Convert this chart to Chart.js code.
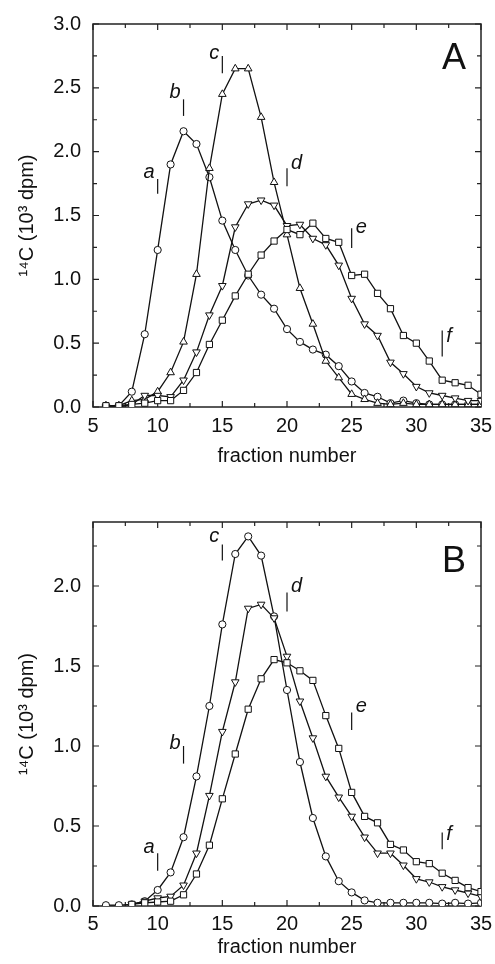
<!DOCTYPE html>
<html>
<head>
<meta charset="utf-8">
<script src="https://cdn.jsdelivr.net/npm/chart.js@4.4.1/dist/chart.umd.min.js"></script>
<style>
  body { margin: 0; background: #fff; }
  .panel { position: absolute; left: 0; width: 495px; height: 482px; }
  #wrapA { top: 0; }
  #wrapB { top: 482px; }
</style>
</head>
<body>
<div id="wrapA" class="panel"><canvas id="chartA"></canvas></div>
<div id="wrapB" class="panel"><canvas id="chartB"></canvas></div>
<script>
// Data
const fractions = [6, 7, 8, 9, 10, 11, 12, 13, 14, 15, 16, 17, 18, 19, 20,
                   21, 22, 23, 24, 25, 26, 27, 28, 29, 30, 31, 32, 33, 34, 35];

// Panel A
const circA  = [0.01, 0.01, 0.12, 0.57, 1.23, 1.90, 2.16, 2.06, 1.80, 1.46, 1.23, 1.03, 0.88, 0.77, 0.61,
                0.51, 0.45, 0.41, 0.32, 0.20, 0.11, 0.08, 0.03, 0.05, 0.03, 0.02, 0.02, 0.02, 0.02, 0.02];
const triUpA = [0.01, 0.01, 0.05, 0.06, 0.12, 0.27, 0.51, 1.04, 1.87, 2.45, 2.65, 2.65, 2.27, 1.76, 1.35,
                0.93, 0.65, 0.36, 0.23, 0.10, 0.06, 0.03, 0.02, 0.03, 0.02, 0.02, 0.02, 0.02, 0.02, 0.02];
const triDnA = [0.00, 0.00, 0.02, 0.09, 0.09, 0.08, 0.21, 0.43, 0.72, 0.95, 1.41, 1.59, 1.62, 1.58, 1.42,
                1.43, 1.32, 1.27, 1.11, 0.85, 0.65, 0.56, 0.35, 0.26, 0.16, 0.11, 0.09, 0.07, 0.05, 0.05];
const sqA    = [0.01, 0.01, 0.02, 0.03, 0.05, 0.05, 0.13, 0.27, 0.49, 0.68, 0.87, 1.04, 1.19, 1.30, 1.39,
                1.35, 1.44, 1.32, 1.29, 1.03, 1.04, 0.89, 0.77, 0.56, 0.50, 0.36, 0.21, 0.19, 0.17, 0.10];

// Panel B
const circB  = [0.005, 0.005, 0.01, 0.03, 0.10, 0.21, 0.43, 0.81, 1.25, 1.76, 2.20, 2.31, 2.19, 1.81, 1.35,
                0.90, 0.55, 0.31, 0.155, 0.085, 0.035, 0.02, 0.02, 0.02, 0.02, 0.02, 0.015, 0.02, 0.015, 0.02];
const triDnB = [null, null, 0.01, 0.03, 0.05, 0.06, 0.13, 0.33, 0.69, 1.09, 1.40, 1.86, 1.885, 1.80, 1.56,
                1.28, 1.05, 0.81, 0.68, 0.56, 0.43, 0.33, 0.33, 0.255, 0.17, 0.15, 0.12, 0.10, 0.08, 0.06];
const sqB    = [null, null, 0.01, 0.02, 0.025, 0.03, 0.07, 0.20, 0.38, 0.67, 0.95, 1.23, 1.42, 1.54, 1.52,
                1.47, 1.41, 1.19, 0.985, 0.71, 0.56, 0.52, 0.385, 0.35, 0.277, 0.265, 0.205, 0.16, 0.115, 0.09];

// Axis ticks
const xTickLabels = [5, 10, 15, 20, 25, 30, 35];
const xMinorTicks = [7.5, 12.5, 17.5, 22.5, 27.5, 32.5];
const yTickLabelsA = [0, 0.5, 1.0, 1.5, 2.0, 2.5, 3.0];
const yMinorTicksA = [0.25, 0.75, 1.25, 1.75, 2.25, 2.75];
const yTickLabelsB = [0, 0.5, 1.0, 1.5, 2.0];
const yMinorTicksB = [0.25, 0.75, 1.25, 1.75, 2.25];

// Fraction markers a-f
const markLetters = ['a', 'b', 'c', 'd', 'e', 'f'];
const markFracA = [10, 12, 15, 20, 25, 32];
const markLowA  = [1.67, 2.28, 2.615, 1.73, 1.245, 0.395];
const markHighA = [1.785, 2.41, 2.75, 1.87, 1.40, 0.60];
const markFracB = [10, 12, 15, 20, 25, 32];
const markLowB  = [0.22, 0.89, 2.16, 1.84, 1.10, 0.355];
const markHighB = [0.33, 1.00, 2.26, 1.96, 1.21, 0.46];

Chart.defaults.font.family = '"Liberation Sans", Arial, sans-serif';
Chart.defaults.font.size = 20;
Chart.defaults.color = '#111';

const toPoints = (vals) => fractions
    .map((f, i) => ({ x: f, y: vals[i] }))
    .filter(p => p.y !== null);

function seriesDataset(vals, style, rotation, radius) {
    return {
        data: toPoints(vals),
        borderColor: '#111',
        borderWidth: 1.3,
        pointStyle: style,
        rotation: rotation,
        pointRadius: radius,
        pointBackgroundColor: '#fff',
        pointBorderColor: '#111',
        pointBorderWidth: 1,
        fill: false,
        tension: 0
    };
}

function markDatasets(fracs, lows, highs) {
    return fracs.map((f, i) => ({
        data: [{ x: f, y: lows[i] }, { x: f, y: highs[i] }],
        borderColor: '#111',
        borderWidth: 1.2,
        pointRadius: 0,
        fill: false
    }));
}

// Box frame with inward ticks on all four sides
const frameTicks = {
    id: 'frameTicks',
    beforeDatasetsDraw(chart, args, opts) {
        const { ctx, chartArea: a } = chart;
        const x = chart.scales.x, y = chart.scales.y;
        ctx.save();
        ctx.strokeStyle = '#222';
        ctx.lineWidth = 1.5;
        ctx.strokeRect(a.left, a.top, a.right - a.left, a.bottom - a.top);
        ctx.lineWidth = 1.2;
        ctx.beginPath();
        const vx = (v, len) => {
            const px = x.getPixelForValue(v);
            ctx.moveTo(px, a.bottom); ctx.lineTo(px, a.bottom - len);
            ctx.moveTo(px, a.top); ctx.lineTo(px, a.top + len);
        };
        const hy = (v, len) => {
            const py = y.getPixelForValue(v);
            ctx.moveTo(a.left, py); ctx.lineTo(a.left + len, py);
            ctx.moveTo(a.right, py); ctx.lineTo(a.right - len, py);
        };
        opts.xMajor.forEach(v => vx(v, 6));
        opts.xMinor.forEach(v => vx(v, 4));
        opts.yMajor.forEach(v => hy(v, 6));
        opts.yMinor.forEach(v => hy(v, 4));
        ctx.stroke();
        ctx.restore();
    }
};

// Italic letters next to fraction markers, plus panel letter
const markLabels = {
    id: 'markLabels',
    afterDatasetsDraw(chart, args, opts) {
        const { ctx, chartArea: a } = chart;
        const x = chart.scales.x, y = chart.scales.y;
        ctx.save();
        ctx.fillStyle = '#111';
        ctx.font = 'italic 20px "Liberation Sans", Arial, sans-serif';
        ctx.textBaseline = 'alphabetic';
        opts.fracs.forEach((f, i) => {
            const px = x.getPixelForValue(f);
            const top = y.getPixelForValue(opts.highs[i]);
            if (opts.side[i] < 0) {
                ctx.textAlign = 'right';
                ctx.fillText(markLetters[i], px - 3, top + opts.dy[i]);
            } else {
                ctx.textAlign = 'left';
                ctx.fillText(markLetters[i], px + 4, top + opts.dy[i]);
            }
        });
        ctx.font = '36px "Liberation Sans", Arial, sans-serif';
        ctx.textAlign = 'right';
        ctx.fillText(opts.panel, a.right - 15, a.top + opts.panelDy);
        ctx.restore();
    }
};

function makeChart(canvasId, p) {
    return new Chart(document.getElementById(canvasId), {
        type: 'line',
        data: {
            datasets: [...p.series, ...markDatasets(p.markFrac, p.markLow, p.markHigh)]
        },
        options: {
            responsive: true,
            maintainAspectRatio: false,
            animation: false,
            layout: { padding: { left: 0, top: p.top, right: 14, bottom: 0 } },
            scales: {
                x: {
                    type: 'linear',
                    min: 5,
                    max: 35,
                    afterBuildTicks: (scale) => { scale.ticks = xTickLabels.map(v => ({ value: v })); },
                    afterFit: (scale) => {
                        scale.height = p.xHeight;
                        scale.paddingLeft = 0;
                        scale.paddingRight = 0;
                    },
                    ticks: { padding: p.xPad, maxRotation: 0, autoSkip: false },
                    grid: { drawOnChartArea: false, drawTicks: false },
                    border: { display: false },
                    title: { display: true, text: 'fraction number', font: { size: 20 }, padding: { top: 0, bottom: p.titlePad } }
                },
                y: {
                    type: 'linear',
                    min: 0,
                    max: p.yMax,
                    afterBuildTicks: (scale) => { scale.ticks = p.yTicks.map(v => ({ value: v })); },
                    afterFit: (scale) => { scale.width = 93; },
                    ticks: { padding: 12, callback: (v) => v.toFixed(1) },
                    grid: { drawOnChartArea: false, drawTicks: false },
                    border: { display: false },
                    title: { display: true, text: '¹⁴C (10³ dpm)', font: { size: 20 }, padding: { top: 15, bottom: 0 } }
                }
            },
            plugins: {
                legend: { display: false },
                tooltip: { enabled: false },
                frameTicks: { xMajor: xTickLabels, xMinor: xMinorTicks, yMajor: p.yTicks, yMinor: p.yMinor },
                markLabels: { fracs: p.markFrac, highs: p.markHigh, side: [-1, -1, -1, 1, 1, 1], dy: p.labelDy, panel: p.panel, panelDy: p.panelDy }
            }
        },
        plugins: [frameTicks, markLabels]
    });
}

makeChart('chartA', {
    series: [
        seriesDataset(sqA, 'rect', 0, 4.4),
        seriesDataset(triDnA, 'triangle', 180, 4.4),
        seriesDataset(triUpA, 'triangle', 0, 4.4),
        seriesDataset(circA, 'circle', 0, 3.6)
    ],
    markFrac: markFracA, markLow: markLowA, markHigh: markHighA,
    yMax: 3.0, yTicks: yTickLabelsA, yMinor: yMinorTicksA,
    top: 23, xHeight: 75, xPad: 7, titlePad: 14,
    labelDy: [-1.5, -1.5, 3, 1, 5, 12], panel: 'A', panelDy: 45
});

makeChart('chartB', {
    series: [
        seriesDataset(sqB, 'rect', 0, 4.4),
        seriesDataset(triDnB, 'triangle', 180, 4.4),
        seriesDataset(circB, 'circle', 0, 3.6)
    ],
    markFrac: markFracB, markLow: markLowB, markHigh: markHighB,
    yMax: 2.4, yTicks: yTickLabelsB, yMinor: yMinorTicksB,
    top: 40, xHeight: 58, xPad: 6, titlePad: 5,
    labelDy: [0, 3, -2, 0, 0, 8], panel: 'B', panelDy: 50
});
</script>
</body>
</html>
